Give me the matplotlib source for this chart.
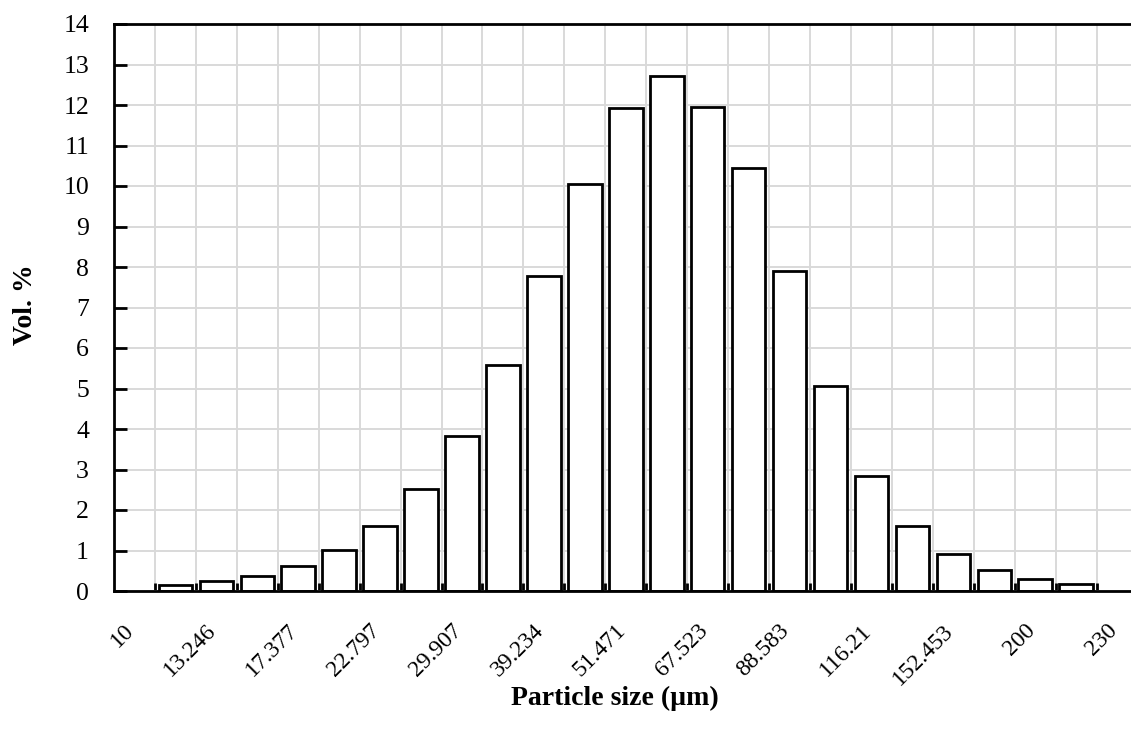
import matplotlib
matplotlib.use("Agg")
import matplotlib.pyplot as plt
import matplotlib.transforms as mtransforms
import numpy as np

# Categories (25 bins); labels shown on every other bin
tick_labels = ["10", "13.246", "17.377", "22.797", "29.907", "39.234", "51.471",
               "67.523", "88.583", "116.21", "152.453", "200", "230"]
n_categories = 25
# Vol. % per bin (bins 0 and 24 are empty)
vol_percent = [0.0, 0.15, 0.25, 0.37, 0.62, 1.01, 1.61, 2.53, 3.83, 5.58, 7.78,
               10.05, 11.92, 12.72, 11.96, 10.44, 7.91, 5.07, 2.84, 1.60, 0.91,
               0.52, 0.29, 0.17, 0.0]

plt.rcParams['font.family'] = ['Liberation Serif', 'DejaVu Serif']

W, H = 1131, 741
fig = plt.figure(figsize=(W / 100, H / 100), dpi=100)
left_px, right_px, top_px, bot_px = 114.0, 1137.6, 24.0, 591.0
ax = fig.add_axes([left_px / W, (H - bot_px) / H,
                   (right_px - left_px) / W, (bot_px - top_px) / H])

x = np.arange(n_categories)
vals = np.array(vol_percent)
mask = vals > 0
ax.bar(x[mask], vals[mask], width=0.82, color="white", edgecolor="black",
       linewidth=2.0, zorder=3)

ax.set_xlim(-0.5, n_categories - 0.5)
ax.set_ylim(0, 14)

# Major x ticks at category boundaries (grid + inward ticks), labels on minor ticks
ax.set_xticks(np.arange(0.5, n_categories - 0.5, 1.0))
ax.set_xticklabels([])
ax.set_xticks(np.arange(0, n_categories, 2), minor=True)
ax.set_xticklabels(tick_labels, minor=True, rotation=45, ha="right", va="top",
                   fontsize=17)
ax.tick_params(axis="x", which="major", direction="in", length=6, width=2.0,
               color="black")
ax.tick_params(axis="x", which="minor", length=0, pad=21)
offset = mtransforms.ScaledTranslation(4 / 100, 0, fig.dpi_scale_trans)
for lab in ax.get_xticklabels(minor=True):
    lab.set_transform(lab.get_transform() + offset)

ax.set_yticks(np.arange(0, 15, 1))
ax.tick_params(axis="y", direction="in", length=9, width=2.0, labelsize=18.5,
               pad=18)

ax.grid(True, which="major", color="#d9d9d9", linewidth=1.4, zorder=0)
ax.set_axisbelow(True)

for side in ["left", "top", "bottom"]:
    ax.spines[side].set_linewidth(2.0)
    ax.spines[side].set_color("black")
    ax.spines[side].set_zorder(4)
ax.spines["right"].set_visible(False)

fig.text(25 / W, 1 - 305 / H, "Vol. %", rotation=90, ha="center", va="center",
         fontsize=20, fontweight="bold")
fig.text(615 / W, 1 - 698 / H, "Particle size (µm)", ha="center", va="center",
         fontsize=20, fontweight="bold")

fig.savefig("out.png", dpi=100)
